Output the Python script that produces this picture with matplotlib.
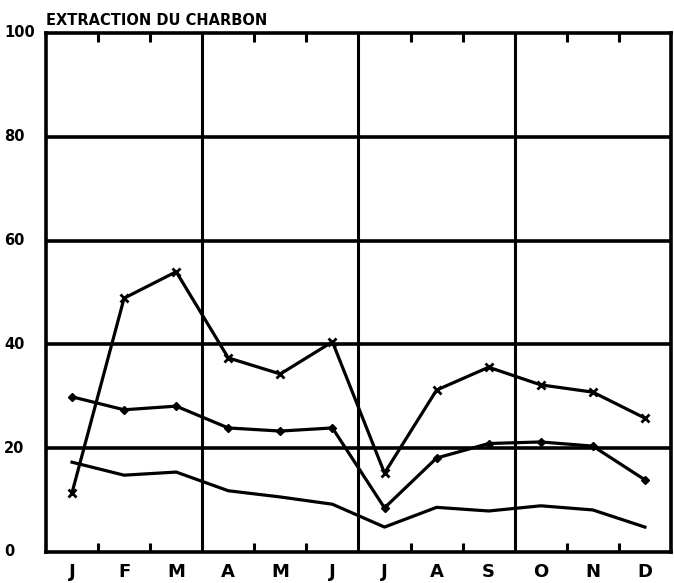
import numpy as np
import matplotlib.pyplot as plt
import matplotlib.transforms as mtransforms

months = ['J', 'F', 'M', 'A', 'M', 'J', 'J', 'A', 'S', 'O', 'N', 'D']
y_ticks = [0, 20, 40, 60, 80, 100]

# three series
crosses = [11.4, 48.9, 54.0, 37.4, 34.3, 40.5, 15.2, 31.2, 35.6, 32.2, 30.8, 25.8]
diamonds = [29.9, 27.4, 28.1, 23.9, 23.3, 23.9, 8.5, 18.1, 20.9, 21.2, 20.4, 13.9]
plain = [17.3, 14.8, 15.4, 11.8, 10.6, 9.2, 4.8, 8.6, 7.9, 8.9, 8.1, 4.8]

fig = plt.figure(figsize=(6.74, 5.83), dpi=100)
ax = fig.add_axes([0.0682, 0.0532, 0.9273, 0.8902])

x = np.arange(len(months)) + 0.5
ax.set_xlim(0, 12)
ax.set_ylim(0, 100)

# grid: horizontal every 20, vertical at quarters
for v in y_ticks[1:-1]:
    ax.axhline(v, color='black', lw=2.6, zorder=1)
for q in [3, 6, 9]:
    ax.axvline(q, color='black', lw=2.2, zorder=1)

# small inward ticks at month boundaries, top and bottom
for b in range(1, 12):
    if b % 3 == 0:
        continue
    ax.plot([b, b], [0, 1.7], color='black', lw=2.2, solid_capstyle='butt', zorder=1)
    ax.plot([b, b], [100, 98.3], color='black', lw=2.2, solid_capstyle='butt', zorder=1)

ax.plot(x, crosses, color='black', lw=2.3, marker='x', ms=6, mew=2, zorder=3)
ax.plot(x, diamonds, color='black', lw=2.3, marker='D', ms=4, zorder=3)
ax.plot(x, plain, color='black', lw=2.3, zorder=3)

for s in ax.spines.values():
    s.set_linewidth(2.6)

ax.set_xticks(x)
ax.set_xticklabels(months, fontsize=13, fontweight='bold')
ax.tick_params(axis='x', length=0, pad=8)

# y labels sit flush at the left edge of the figure
ax.set_yticks([])
trans = mtransforms.blended_transform_factory(fig.transFigure, ax.transData)
for v in y_ticks:
    ax.text(4 / 674, v, str(v), transform=trans, fontsize=10.5, fontweight='bold',
            ha='left', va='center')

fig.text(0.068, 0.965, 'EXTRACTION DU CHARBON', fontsize=10.5, fontweight='bold',
         ha='left', va='center')

fig.savefig('out.png', dpi=100)
